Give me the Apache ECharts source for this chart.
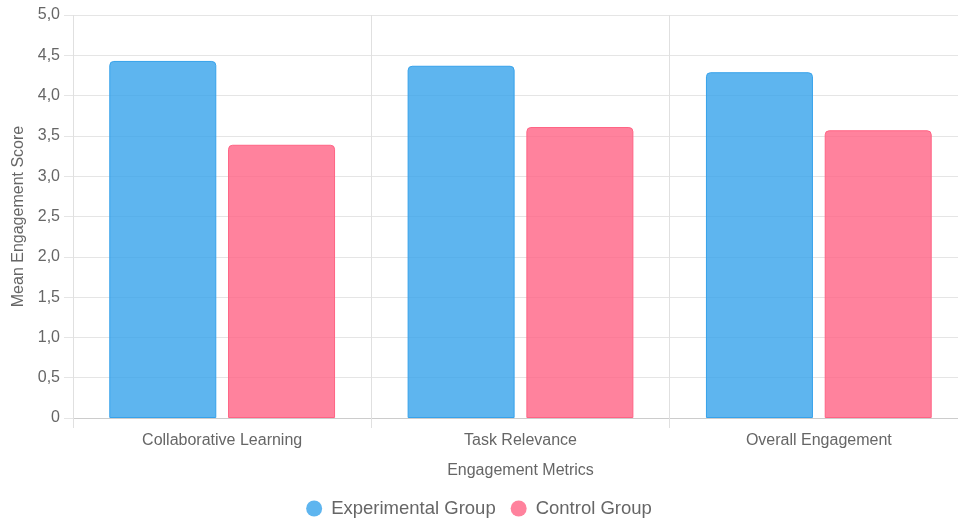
<!DOCTYPE html>
<html><head><meta charset="utf-8">
<script src="https://cdn.jsdelivr.net/npm/echarts@6/dist/echarts.min.js"></script>
<style>html,body{margin:0;padding:0;background:#fff}#c{width:958px;height:522px}</style>
</head><body><div id="c"></div>
<script>
const categories = ["Collaborative Learning", "Task Relevance", "Overall Engagement"];
const experimental = [4.43, 4.37, 4.29];
const control = [3.39, 3.61, 3.57];
const seriesNames = ["Experimental Group", "Control Group"];

const chart = echarts.init(document.getElementById('c'), null, {renderer: 'canvas'});
const font = 'Helvetica, Arial, "Liberation Sans", sans-serif';
chart.setOption({
  animation: false,
  textStyle: {fontFamily: font},
  legend: {
    top: 494, left: 'center', icon: 'circle', itemWidth: 16, itemHeight: 16, itemGap: 15,
    itemStyle: {borderWidth: 0},
    textStyle: {fontSize: 18.5, color: '#666', fontFamily: font, padding: [0, 0, 0, 4]},
    data: seriesNames
  },
  grid: {left: 73, top: 15, width: 895, height: 403, containLabel: false, outerBoundsMode: 'none'},
  xAxis: {
    type: 'category', data: categories,
    name: 'Engagement Metrics', nameLocation: 'middle', nameGap: 45,
    nameTextStyle: {fontSize: 16, color: '#666'},
    axisLine: {lineStyle: {color: '#cccccc'}},
    axisTick: {show: true, length: 10, lineStyle: {color: '#e0e0e0'}},
    axisLabel: {fontSize: 16, color: '#666', margin: 15},
    splitLine: {show: true, lineStyle: {color: '#e0e0e0'}}
  },
  yAxis: {
    type: 'value', min: 0, max: 5, interval: 0.5,
    name: 'Mean Engagement Score', nameLocation: 'middle', nameGap: 46, nameRotate: 90,
    nameTextStyle: {fontSize: 16, color: '#666'},
    axisLine: {show: false},
    axisTick: {show: true, length: 9, lineStyle: {color: '#e5e5e5'}},
    axisLabel: {fontSize: 16, color: '#666', margin: 13,
      formatter: v => v === 0 ? '0' : v.toFixed(1).replace('.', ',')},
    splitLine: {lineStyle: {color: '#e5e5e5'}}
  },
  series: [
    {name: seriesNames[0], type: 'bar', data: experimental, barWidth: 107, barGap: '11%',
     itemStyle: {color: 'rgba(54,162,235,0.8)', borderColor: 'rgb(54,162,235)', borderWidth: 1, borderRadius: [4,4,0,0]}},
    {name: seriesNames[1], type: 'bar', data: control, barWidth: 107,
     itemStyle: {color: 'rgba(255,99,132,0.8)', borderColor: 'rgb(255,99,132)', borderWidth: 1, borderRadius: [4,4,0,0]}}
  ]
});
</script></body></html>
